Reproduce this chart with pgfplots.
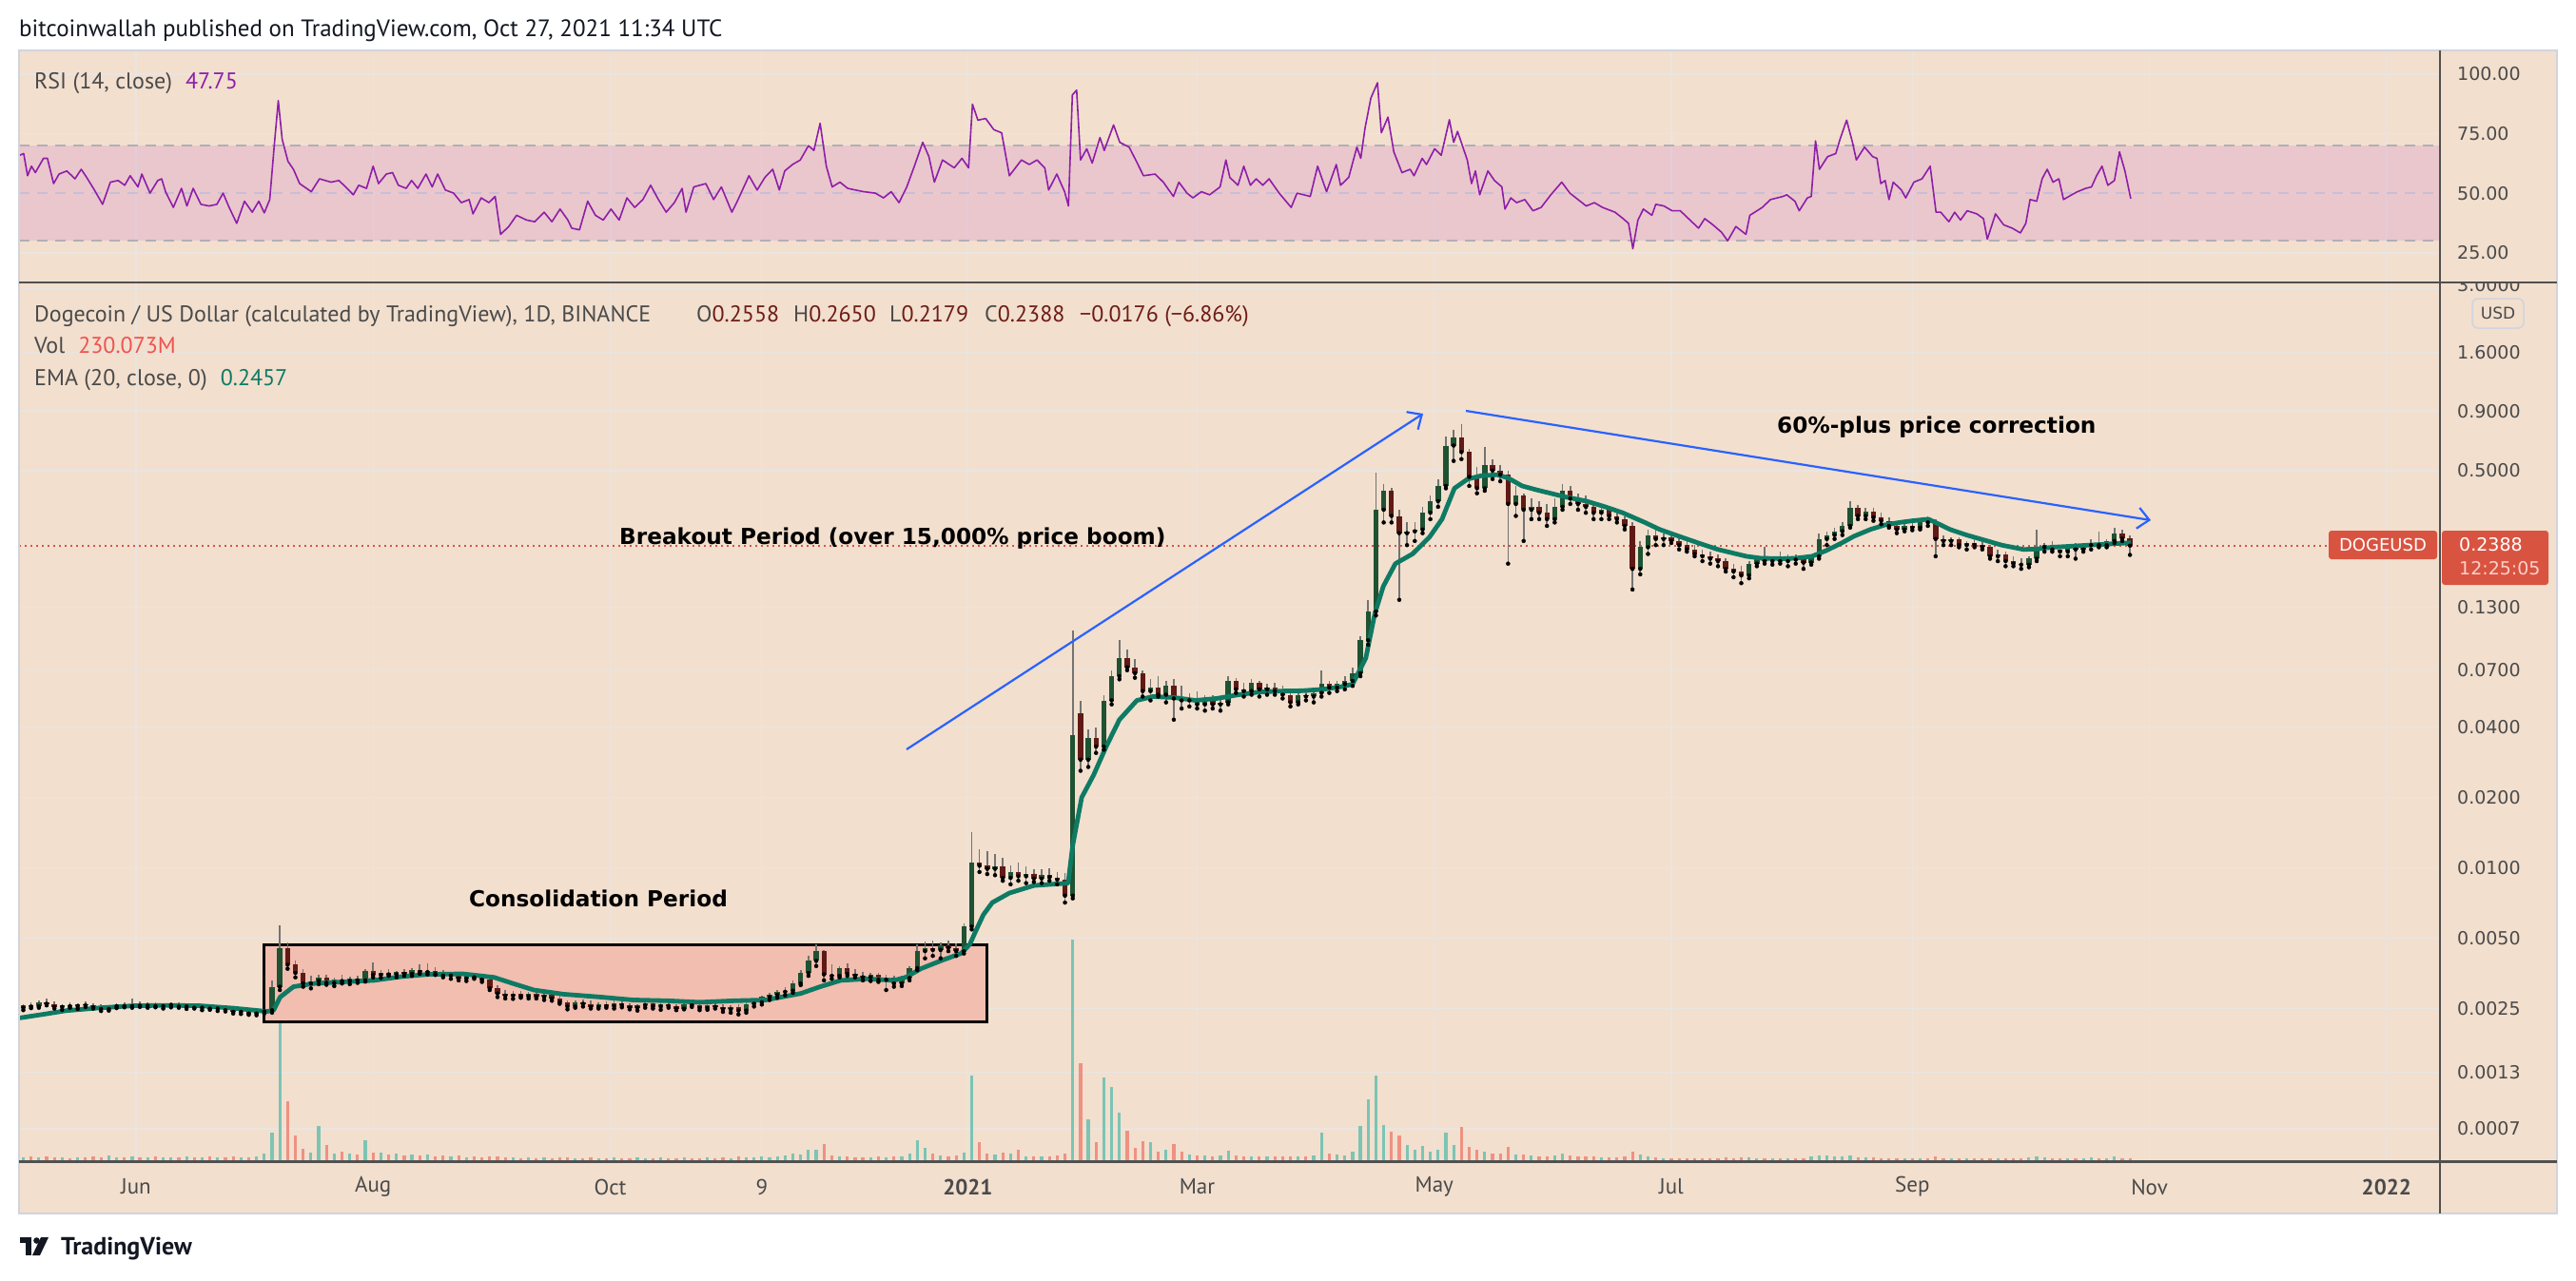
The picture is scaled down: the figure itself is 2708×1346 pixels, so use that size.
\documentclass[border=0pt]{standalone}
\usepackage{pgfplots}
\pgfplotsset{compat=1.18}
\usepackage{pgfplotstable}
\usepackage{fontspec}
\usetikzlibrary{arrows.meta}
\newfontfamily\djs{DejaVu Sans}
\newfontfamily\pts{PT Sans}
\definecolor{bg}{RGB}{242,223,206}
\definecolor{gridc}{RGB}{233,229,226}
\definecolor{labc}{RGB}{74,74,74}
\definecolor{upc}{RGB}{30,82,50}
\definecolor{dnc}{RGB}{96,26,22}
\definecolor{wickc}{RGB}{115,115,115}
\definecolor{emac}{RGB}{14,122,100}
\definecolor{volup}{RGB}{124,196,180}
\definecolor{voldn}{RGB}{238,145,130}
\definecolor{boxc}{RGB}{241,190,175}
\definecolor{arrc}{RGB}{41,98,255}
\definecolor{rsic}{RGB}{142,30,168}
\definecolor{bandc}{RGB}{180,60,200}
\definecolor{dasha}{RGB}{178,174,182}
\definecolor{dashb}{RGB}{200,190,214}
\definecolor{redl}{RGB}{217,83,65}
\definecolor{mar}{RGB}{110,28,22}
\definecolor{volred}{RGB}{239,83,80}
\definecolor{darkl}{RGB}{80,80,80}
\definecolor{txt}{RGB}{19,23,34}
\definecolor{usdb}{RGB}{209,212,220}

\pgfplotstableread{
d o h l c v
-29 .00252 .00262 .00246 .00258 4
-27 .00258 .00266 .00251 .00255 5
-25 .00255 .00270 .00252 .00266 4
-23 .00266 .00276 .00258 .00262 5
-21 .00262 .00268 .00250 .00254 4
-19 .00254 .00262 .00247 .00259 4
-17 .00259 .00266 .00252 .00256 3
-15 .00256 .00263 .00249 .00261 4
-13 .00261 .00268 .00254 .00258 4
-11 .00258 .00264 .00250 .00253 5
-9 .00253 .00260 .00244 .00249 4
-7 .00249 .00258 .00245 .00256 6
-5 .00256 .00264 .00251 .00259 4
-3 .00259 .00265 .00253 .00256 4
-1 .00256 .00276 .00252 .00262 5
1 .00262 .00268 .00254 .00257 4
3 .00257 .00265 .00252 .00261 4
5 .00261 .00267 .00253 .00256 5
7 .00256 .00263 .00250 .00259 4
9 .00259 .00266 .00253 .00262 4
11 .00262 .00266 .00252 .00255 4
13 .00255 .00262 .00249 .00258 5
15 .00258 .00264 .00250 .00252 4
17 .00252 .00259 .00246 .00255 4
19 .00255 .00260 .00247 .00250 5
21 .00250 .00257 .00244 .00252 4
23 .00252 .00256 .00243 .00246 4
25 .00246 .00252 .00238 .00242 5
27 .00242 .00251 .00237 .00247 4
29 .00247 .00250 .00235 .00238 4
31 .00238 .00246 .00234 .00243 5
33 .00243 .00250 .00238 .00246 8
35 .00246 .00330 .00240 .00310 30
37 .00310 .00570 .00300 .00455 170
39 .00455 .00480 .00370 .00385 63
41 .00385 .00400 .00340 .00355 27
43 .00355 .00370 .00310 .00320 13
45 .00320 .00345 .00305 .00328 9
47 .00328 .00350 .00318 .00340 37
49 .00340 .00348 .00316 .00322 17
51 .00322 .00340 .00312 .00332 8
53 .00332 .00348 .00320 .00328 10
55 .00328 .00342 .00318 .00336 8
57 .00336 .00345 .00322 .00330 7
59 .00330 .00370 .00326 .00362 22
61 .00362 .00395 .00340 .00348 9
63 .00348 .00365 .00338 .00355 9
65 .00355 .00370 .00345 .00350 7
67 .00350 .00362 .00340 .00357 8
69 .00357 .00368 .00345 .00352 6
71 .00352 .00372 .00345 .00365 7
73 .00365 .00385 .00352 .00358 6
75 .00358 .00392 .00350 .00362 7
77 .00362 .00375 .00348 .00352 5
79 .00352 .00364 .00340 .00346 6
81 .00346 .00360 .00335 .00350 5
83 .00350 .00356 .00330 .00336 6
85 .00336 .00350 .00328 .00345 4
87 .00345 .00355 .00335 .00340 5
89 .00340 .00350 .00325 .00332 4
91 .00332 .00340 .00300 .00305 5
93 .00305 .00315 .00280 .00290 5
95 .00290 .00300 .00276 .00284 4
97 .00284 .00297 .00275 .00290 4
99 .00290 .00298 .00278 .00282 3
101 .00282 .00296 .00276 .00289 4
103 .00289 .00298 .00276 .00280 3
105 .00280 .00292 .00272 .00286 4
107 .00286 .00293 .00270 .00276 3
109 .00276 .00285 .00262 .00266 4
111 .00266 .00272 .00248 .00255 4
113 .00255 .00270 .00252 .00265 3
115 .00265 .00274 .00255 .00262 3
117 .00262 .00270 .00250 .00254 4
119 .00254 .00266 .00250 .00262 3
121 .00262 .00268 .00252 .00256 3
123 .00256 .00270 .00250 .00264 4
125 .00264 .00272 .00253 .00258 3
127 .00258 .00264 .00248 .00252 3
129 .00252 .00262 .00245 .00258 4
131 .00258 .00270 .00252 .00263 3
133 .00263 .00268 .00250 .00255 3
135 .00255 .00264 .00247 .00260 4
137 .00260 .00268 .00252 .00256 3
139 .00256 .00262 .00246 .00250 3
141 .00250 .00266 .00248 .00262 4
143 .00262 .00270 .00254 .00258 3
145 .00258 .00264 .00246 .00251 3
147 .00251 .00262 .00247 .00259 4
149 .00259 .00266 .00250 .00254 3
151 .00254 .00262 .00242 .00248 4
153 .00248 .00258 .00240 .00253 3
155 .00253 .00260 .00236 .00245 5
157 .00245 .00268 .00240 .00262 4
159 .00262 .00272 .00255 .00266 4
161 .00266 .00285 .00260 .00280 5
163 .00280 .00292 .00272 .00286 4
165 .00286 .00300 .00278 .00295 5
167 .00295 .00310 .00285 .00298 6
169 .00298 .00330 .00292 .00320 8
171 .00320 .00365 .00315 .00355 7
173 .00355 .00420 .00345 .00400 12
175 .00400 .00470 .00380 .00440 12
177 .00440 .00445 .00330 .00350 18
179 .00350 .00385 .00335 .00345 6
181 .00345 .00380 .00340 .00372 5
183 .00372 .00390 .00345 .00352 5
185 .00352 .00368 .00340 .00346 4
187 .00346 .00360 .00330 .00340 4
189 .00340 .00355 .00328 .00348 4
191 .00348 .00356 .00325 .00332 5
193 .00332 .00350 .00300 .00338 4
195 .00338 .00345 .00310 .00320 5
197 .00320 .00345 .00312 .00338 5
199 .00338 .00380 .00330 .00372 8
201 .00372 .00470 .00365 .00440 22
203 .00440 .00485 .00410 .00455 14
205 .00455 .00490 .00420 .00445 8
207 .00445 .00480 .00410 .00465 6
209 .00465 .00490 .00440 .00455 5
211 .00455 .00475 .00420 .00440 6
213 .00440 .00580 .00430 .00560 9
215 .00560 .01420 .00545 .01050 90
217 .01050 .01200 .00960 .01020 20
219 .01020 .01180 .00940 .00990 8
221 .00990 .01150 .00930 .01010 7
223 .01010 .01100 .00880 .00905 9
225 .00905 .01020 .00850 .00960 8
227 .00960 .01050 .00880 .00920 12
229 .00920 .01010 .00860 .00945 5
231 .00945 .00990 .00870 .00900 5
233 .00900 .00990 .00860 .00935 5
235 .00935 .01000 .00880 .00910 5
237 .00910 .00960 .00850 .00890 6
239 .00890 .00950 .00710 .00760 8
241 .00760 .10400 .00740 .03700 233
243 .04600 .05200 .02600 .02900 103
245 .02900 .03900 .02700 .03600 44
247 .03600 .04000 .03100 .03300 20
249 .03300 .05500 .03200 .05200 88
251 .05200 .07000 .05000 .06600 78
253 .06600 .09400 .06400 .07900 51
255 .07900 .08600 .07000 .07200 32
257 .07200 .07800 .06500 .06800 14
259 .06800 .07000 .05400 .05700 21
261 .05700 .06400 .05200 .05900 20
263 .05900 .06600 .05400 .05500 10
265 .05500 .06300 .05100 .06000 12
267 .06000 .06400 .04300 .05300 18
269 .05300 .06000 .04800 .05200 10
271 .05200 .05600 .04900 .05300 7
273 .05300 .05700 .04800 .05000 6
275 .05000 .05500 .04700 .05200 6
277 .05200 .05500 .04800 .05000 5
279 .05000 .05400 .04700 .05100 6
281 .05100 .06600 .05000 .06300 11
283 .06300 .06500 .05600 .05800 6
285 .05800 .06200 .05400 .05700 5
287 .05700 .06400 .05500 .06200 5
289 .06200 .06300 .05400 .05800 5
291 .05800 .06100 .05500 .05900 5
293 .05900 .06200 .05500 .05700 5
295 .05700 .06000 .05300 .05500 5
297 .05500 .05800 .04900 .05100 5
299 .05100 .05700 .05000 .05500 5
301 .05500 .05800 .05200 .05400 5
303 .05400 .05700 .05100 .05600 6
305 .05600 .07000 .05400 .06100 30
307 .06100 .06300 .05600 .05900 8
309 .05900 .06300 .05700 .06100 7
311 .06100 .06600 .05800 .06300 6
313 .06300 .07200 .06000 .06800 10
315 .06800 .09800 .06600 .09400 37
317 .09400 .14000 .09000 .12500 65
319 .12500 .49000 .12000 .34000 90
321 .34000 .44000 .30000 .41000 38
323 .41000 .42000 .30000 .32000 31
325 .32000 .34000 .14000 .27000 27
327 .27000 .30000 .24000 .27500 17
329 .27500 .30000 .25000 .28000 12
331 .28000 .35000 .27000 .33000 16
333 .33000 .39000 .31000 .37000 10
335 .37000 .46000 .35000 .43000 12
337 .43000 .70000 .42000 .64000 30
339 .64000 .75000 .55000 .69000 17
341 .69000 .79000 .56000 .60000 36
343 .60000 .62000 .43000 .47000 15
345 .47000 .52000 .40000 .42000 12
347 .42000 .63000 .41000 .53000 10
349 .53000 .56000 .46000 .50000 8
351 .50000 .53000 .45000 .48000 8
353 .48000 .50000 .20000 .36000 15
355 .36000 .43000 .32000 .39000 7
357 .39000 .40000 .25000 .34000 7
359 .34000 .38000 .31000 .35000 6
361 .35000 .37000 .31000 .33000 5
363 .33000 .36000 .29000 .31000 5
365 .31000 .38000 .30000 .35000 6
367 .35000 .44000 .34000 .41000 8
369 .41000 .43000 .36000 .38000 6
371 .38000 .40000 .34000 .36000 5
373 .36000 .39000 .33000 .35000 5
375 .35000 .37000 .31000 .33000 5
377 .33000 .36000 .31000 .34000 4
379 .34000 .35000 .31000 .32000 4
381 .32000 .34000 .30000 .31000 4
383 .31000 .32000 .28000 .29000 5
385 .29000 .30000 .15500 .19000 10
387 .19000 .25000 .18000 .23500 7
389 .23500 .28000 .22000 .26500 5
391 .26500 .28000 .24000 .25500 4
393 .25500 .27000 .24000 .26000 3
395 .26000 .27000 .24500 .25000 3
397 .25000 .26000 .23000 .24000 3
399 .24000 .25000 .22500 .23000 3
401 .23000 .24000 .21500 .22000 3
403 .22000 .23000 .20500 .21500 3
405 .21500 .22500 .20000 .21000 3
407 .21000 .22000 .19500 .20500 3
409 .20500 .21000 .18500 .19000 4
411 .19000 .20000 .17500 .18500 3
413 .18500 .19500 .16500 .17800 4
415 .17800 .20500 .17300 .20000 4
417 .20000 .21500 .19500 .20800 3
419 .20800 .23500 .20000 .20500 3
421 .20500 .21500 .19800 .21000 3
423 .21000 .22500 .20000 .20500 3
425 .20500 .21800 .19500 .21200 3
427 .21200 .22000 .20000 .20800 3
429 .20800 .21500 .19000 .20200 3
431 .20200 .22000 .19800 .21500 5
433 .21500 .27000 .21000 .25500 6
435 .25500 .27500 .24000 .26500 6
437 .26500 .28500 .25500 .27500 5
439 .27500 .30000 .26500 .29000 5
441 .29000 .37000 .28500 .34500 6
443 .34500 .35500 .31000 .32000 4
445 .32000 .34500 .31000 .33500 4
447 .33500 .34500 .30500 .31500 4
449 .31500 .33000 .29500 .30500 3
451 .30500 .31500 .28500 .29000 3
453 .29000 .30000 .27000 .28000 3
455 .28000 .29500 .27500 .29000 3
457 .29000 .30000 .27800 .28500 3
459 .28500 .31000 .28000 .30500 3
461 .30500 .32000 .29000 .30000 3
463 .30000 .31000 .21500 .25500 5
465 .25500 .26500 .24000 .25000 3
467 .25000 .26000 .24000 .25500 3
469 .25500 .26000 .23500 .24000 3
471 .24000 .25000 .23000 .24500 3
473 .24500 .25500 .23500 .24000 3
475 .24000 .25000 .23000 .23500 3
477 .23500 .24000 .21000 .21500 3
479 .21500 .23000 .20500 .22000 3
481 .22000 .22500 .19500 .20500 3
483 .20500 .21500 .19500 .20000 3
485 .20000 .21000 .19000 .19800 3
487 .19800 .21500 .19300 .21000 4
489 .21000 .28000 .20500 .23500 5
491 .23500 .24500 .22500 .24000 4
493 .24000 .25000 .22500 .23000 3
495 .23000 .24000 .21500 .22500 3
497 .22500 .24000 .21500 .23500 3
499 .23500 .24500 .21000 .23000 3
501 .23000 .24500 .22500 .24000 3
503 .24000 .25500 .23000 .24500 4
505 .24500 .27500 .23500 .24000 3
507 .24000 .25500 .23500 .25000 3
509 .25000 .28500 .24500 .27000 5
511 .27000 .28000 .25000 .25580 3
513 .25580 .26500 .21790 .23880 3
}\candles

\pgfplotsset{tvpanel/.style={scale only axis, width=2545pt, xmin=-30.1, xmax=592.75, anchor=north west}}

\begin{document}
\begin{tikzpicture}[x=1pt,y=1pt]
\path[use as bounding box] (0,0) rectangle (2708,-1346);
\fill[white] (0,0) rectangle (2708,-1346);
\fill[bg] (20,-53) rectangle (2688,-1276);

% ---- main grid + labels
\begin{axis}[tvpanel, at={(20pt,-297pt)}, height=924pt, ymode=log, ymin=0.000556, ymax=3.19,
  axis line style={draw=none}, tick style={draw=none}, major tick length=0pt,
  xtick={0,61,122,161,214,273,334,395,457,518,579},
  xticklabels={Jun,Aug,Oct,9,\textbf{2021},Mar,May,Jul,Sep,Nov,\textbf{2022}},
  xticklabel style={font=\pts\fontsize{23}{23}\selectfont, text=labc, anchor=center, inner sep=0pt, yshift=-27pt},
  ytick={0.000765,0.001334,0.0025,0.005,0.01,0.02,0.04,0.07,0.13,0.24,0.5,0.9,1.6,3},
  yticklabels={0.0007,0.0013,0.0025,0.0050,0.0100,0.0200,0.0400,0.0700,0.1300,{},0.5000,0.9000,1.6000,{}},
  yticklabel pos=right,
  yticklabel style={font=\djs\fontsize{19}{19}\selectfont, text=labc, anchor=west, inner sep=0pt, xshift=18pt},
  grid=major, major grid style={draw=gridc, line width=1.3pt}]
\end{axis}

% ---- volume
\begin{axis}[tvpanel, at={(20pt,-297pt)}, height=924pt, ymin=0, ymax=924, hide axis]
\addplot[ycomb, draw=volup, line width=3.2pt, restrict expr to domain={\thisrow{c}-\thisrow{o}}{0:1000}] table[x=d,y=v]{\candles};
\addplot[ycomb, draw=voldn, line width=3.2pt, restrict expr to domain={\thisrow{o}-\thisrow{c}}{0.0000001:1000}] table[x=d,y=v]{\candles};
\end{axis}

% ---- price
\begin{axis}[tvpanel, at={(20pt,-297pt)}, height=924pt, ymode=log, ymin=0.000556, ymax=3.19, hide axis]
\fill[boxc] (axis cs:33,0.0047) rectangle (axis cs:219,0.00219);
\draw[black, line width=3pt] (axis cs:33,0.0047) rectangle (axis cs:219,0.00219);
\draw[redl, line width=2pt, dash pattern=on 2pt off 4pt] (axis cs:-30.1,0.2388) -- (axis cs:592.75,0.2388);
\addplot[only marks, mark=none, error bars/.cd, y dir=plus, y explicit, error mark=none,
  error bar style={draw=wickc, line width=1.6pt}]
  table[x=d, y=l, y error plus expr=\thisrow{h}-\thisrow{l}]{\candles};
\addplot[only marks, mark=none, restrict expr to domain={\thisrow{c}-\thisrow{o}}{0:1000},
  error bars/.cd, y dir=plus, y explicit, error mark=none,
  error bar style={draw=upc, line width=5.4pt}]
  table[x=d, y=o, y error plus expr=\thisrow{c}-\thisrow{o}]{\candles};
\addplot[only marks, mark=none, restrict expr to domain={\thisrow{o}-\thisrow{c}}{0.0000001:1000},
  error bars/.cd, y dir=plus, y explicit, error mark=none,
  error bar style={draw=dnc, line width=5.4pt}]
  table[x=d, y=c, y error plus expr=\thisrow{o}-\thisrow{c}]{\candles};
\addplot[emac, line width=4.8pt, line join=round] coordinates {
(-29.9,0.00228)(-24,0.00236)(-17.9,0.00245)(-9,0.00252)(-0.7,0.00257)(8,0.00258)(16.4,0.00257)(25,0.00251)(33.7,0.00243)(35.4,0.00246)(37.1,0.0028)(40.5,0.0031)(45.7,0.0032)(53,0.00325)(61.2,0.0033)(68,0.00342)(74.9,0.0035)(84,0.00352)(92.1,0.0034)(97,0.0032)(102.4,0.0030)(110,0.00288)(119.5,0.0028)(128,0.00272)(136.7,0.0027)(145,0.00266)(153.9,0.0027)(162,0.00272)(171,0.0029)(176,0.0031)(181.3,0.0033)(188,0.00335)(195,0.0033)(198,0.0034)(201.9,0.0037)(207,0.0040)(212.2,0.0043)(214.5,0.0047)(215.9,0.0053)(218,0.0063)(220.3,0.0071)(224.7,0.0078)(231,0.0084)(239.8,0.0086)(241,0.0125)(243.3,0.020)(246.4,0.025)(249.6,0.033)(253,0.043)(257.5,0.052)(261.6,0.054)(267,0.0535)(272.6,0.052)(278,0.053)(283.7,0.055)(289,0.0565)(294.4,0.057)(300,0.0572)(305.4,0.058)(310,0.0595)(313,0.061)(316.4,0.079)(318.7,0.122)(320.9,0.16)(324,0.20)(328.4,0.22)(332.8,0.26)(336,0.31)(339.2,0.42)(342.6,0.46)(346,0.475)(350.2,0.48)(353,0.465)(356.6,0.43)(360,0.415)(363.9,0.40)(368,0.385)(373.2,0.37)(378,0.35)(382.5,0.33)(388.2,0.30)(392,0.28)(397.5,0.26)(402,0.245)(407,0.23)(414.3,0.215)(418,0.211)(423.6,0.21)(427,0.211)(431.2,0.215)(435,0.228)(438.8,0.245)(442,0.262)(446.2,0.28)(450,0.293)(453.7,0.30)(457,0.305)(461.1,0.31)(463,0.30)(466.7,0.28)(471,0.265)(476.3,0.25)(480,0.24)(485.6,0.23)(489,0.231)(492.9,0.235)(497,0.237)(502.4,0.24)(508,0.243)(513.2,0.2457)
};
\end{axis}

% cut 3.0000 label
\node[anchor=west, inner sep=0pt, font=\djs\fontsize{19}{19}\selectfont, text=labc] at (2583,-300) {3.0000};
\fill[bg] (2566,-54) rectangle (2687,-296);

% ---- RSI
\begin{axis}[tvpanel, at={(20pt,-53pt)}, height=244pt, ymin=12.63, ymax=109.97,
  axis line style={draw=none}, tick style={draw=none}, major tick length=0pt,
  xtick={0,61,122,161,214,273,334,395,457,518,579}, xticklabels={},
  ytick={25,50,75,100}, yticklabels={25.00,50.00,75.00,100.00},
  yticklabel pos=right,
  yticklabel style={font=\djs\fontsize{19}{19}\selectfont, text=labc, anchor=west, inner sep=0pt, xshift=18pt},
  grid=major, major grid style={draw=gridc, line width=1.3pt}]
\fill[bandc, fill opacity=0.14] (axis cs:-30.1,30) rectangle (axis cs:592.75,70);
\draw[dasha, line width=2pt, dash pattern=on 11pt off 8pt] (axis cs:-30.1,70) -- (axis cs:592.75,70);
\draw[dashb, line width=2pt, dash pattern=on 11pt off 8pt] (axis cs:-30.1,50) -- (axis cs:592.75,50);
\draw[dasha, line width=2pt, dash pattern=on 11pt off 8pt] (axis cs:-30.1,30) -- (axis cs:592.75,30);
\addplot[rsic, line width=1.6pt, line join=round] coordinates {
(-29.9,66.0)(-28.9,66.7)(-27.9,57.4)(-26.9,61.4)(-25.9,58.7)(-23.8,64.7)(-22.8,64.7)(-21.2,54.1)(-19.8,58.1)(-17.8,59.4)(-15.7,56.1)(-14.1,60.1)(-12.7,56.7)(-10.7,51.4)(-8.6,45.4)(-6.6,54.7)(-4.6,55.4)(-2.9,53.4)(-1.5,57.4)(0.5,52.7)(1.5,58.1)(3.6,50.1)(5.6,55.4)(6.6,56.1)(7.6,50.7)(9.6,44.1)(11.7,52.1)(13.1,44.7)(14.7,52.1)(16.7,45.4)(18.8,44.7)(20.8,45.4)(22.4,50.1)(23.8,44.7)(25.9,37.4)(27.9,46.7)(29.9,42.1)(31.6,46.7)(33.0,41.8)(34.4,47.4)(35.6,70.7)(36.6,88.9)(37.6,72.7)(39.1,63.4)(40.5,60.1)(42.1,54.1)(45.1,50.7)(47.2,56.1)(50.2,54.7)(52.2,55.4)(54.3,52.1)(55.9,49.4)(57.3,53.4)(59.3,52.1)(61.0,61.4)(62.4,54.1)(64.4,58.1)(66.0,58.7)(67.5,53.4)(69.5,52.1)(70.9,55.4)(72.5,52.1)(74.6,58.1)(76.2,52.7)(77.6,58.1)(79.6,51.4)(81.7,50.1)(83.7,46.1)(85.7,47.4)(86.7,41.4)(88.8,48.1)(90.8,46.1)(92.4,48.7)(93.8,32.8)(95.9,36.1)(97.9,40.8)(100.5,38.8)(102.6,38.1)(105.0,42.1)(107.0,38.1)(109.1,43.4)(111.1,38.8)(112.1,35.4)(114.1,34.7)(116.2,46.7)(118.2,40.8)(120.2,38.8)(122.2,43.4)(124.3,38.8)(126.3,48.1)(128.3,44.1)(130.4,47.4)(132.4,53.4)(134.4,47.4)(136.4,42.1)(138.5,46.1)(140.5,52.1)(141.5,42.1)(143.5,52.7)(146.6,54.1)(148.6,47.4)(150.6,52.7)(153.3,42.1)(154.7,46.7)(157.7,57.4)(159.8,51.4)(161.8,56.7)(163.8,60.1)(165.5,51.4)(166.9,59.4)(168.9,62.1)(170.9,64.0)(173.0,70.0)(174.4,68.0)(176.0,79.4)(177.6,61.4)(179.1,52.7)(181.1,54.7)(183.1,52.1)(185.1,51.4)(187.2,50.7)(190.2,50.1)(192.3,48.1)(194.3,50.7)(196.3,46.1)(198.3,52.7)(200.4,62.1)(202.4,71.4)(204.0,65.4)(205.4,54.7)(207.5,64.0)(210.5,60.7)(212.5,64.7)(214.2,60.7)(215.2,87.4)(216.6,80.7)(218.6,81.4)(220.7,76.7)(222.7,75.4)(224.7,57.4)(227.8,64.0)(229.8,62.1)(231.8,64.0)(233.8,60.7)(234.8,51.4)(236.9,58.1)(238.9,50.7)(239.9,44.7)(240.9,91.3)(242.0,93.3)(243.0,64.0)(244.6,68.7)(246.0,62.7)(248.0,73.4)(249.1,68.0)(251.5,78.7)(253.1,71.4)(255.5,69.4)(257.2,64.0)(259.2,57.4)(262.2,58.1)(264.3,54.7)(266.9,48.7)(268.3,54.7)(270.4,50.1)(271.9,48.1)(274.1,50.7)(276.2,49.4)(278.9,52.7)(280.4,64.0)(281.4,56.7)(283.5,53.4)(285.0,61.4)(286.7,53.4)(288.2,56.1)(289.9,53.4)(291.5,56.1)(294.1,50.1)(297.2,44.1)(298.7,50.1)(302.1,48.7)(304.0,61.4)(306.3,50.7)(308.8,62.1)(309.9,53.4)(312.0,56.7)(314.1,69.4)(315.1,64.7)(316.2,77.4)(317.7,90.0)(319.4,96.4)(320.4,75.4)(322.1,82.0)(323.6,67.4)(325.7,58.7)(327.8,60.1)(328.8,57.4)(330.9,64.7)(332.0,62.1)(334.1,68.7)(335.8,66.0)(337.9,80.9)(339.0,71.4)(340.0,76.0)(342.5,64.0)(343.6,54.1)(344.6,59.4)(345.7,49.4)(347.8,59.4)(349.5,55.4)(351.4,52.7)(352.2,43.4)(353.7,48.1)(355.2,46.1)(357.3,47.4)(359.4,42.7)(361.5,44.1)(364.0,49.4)(366.8,54.7)(368.9,50.1)(371.0,47.4)(373.1,44.7)(375.2,46.1)(377.3,44.1)(380.5,42.1)(382.6,39.4)(384.0,37.4)(385.1,26.8)(386.4,38.8)(387.8,43.4)(390.0,40.8)(391.0,45.4)(393.1,44.7)(395.2,42.7)(397.3,42.7)(399.8,38.8)(402.0,35.4)(403.6,39.4)(405.7,36.8)(407.9,33.7)(409.5,30.1)(411.6,36.1)(414.2,32.8)(415.2,40.8)(418.4,44.1)(420.5,47.4)(423.7,48.7)(424.7,49.4)(426.8,46.7)(427.9,42.7)(430.0,48.1)(431.0,48.7)(432.1,72.0)(433.1,60.1)(435.2,65.4)(437.3,66.7)(438.4,72.7)(440.1,80.7)(441.6,71.4)(442.6,64.0)(444.7,69.4)(446.8,65.4)(447.9,64.7)(448.9,54.1)(450.0,55.4)(451.0,47.4)(452.1,54.7)(454.2,51.4)(455.3,48.1)(457.4,54.7)(459.5,56.1)(461.6,61.4)(463.1,42.1)(464.3,42.1)(466.4,38.1)(467.9,42.1)(469.4,38.8)(471.1,42.7)(473.6,41.4)(475.3,39.4)(476.3,30.8)(478.4,41.4)(480.5,36.8)(482.7,35.4)(484.8,33.4)(486.2,37.4)(487.3,47.4)(489.0,46.7)(490.4,56.1)(491.7,60.1)(493.2,54.7)(494.7,56.1)(495.9,47.4)(498.0,49.4)(499.5,50.7)(501.6,52.1)(503.1,52.7)(504.4,57.4)(505.8,61.4)(507.3,53.4)(509.0,55.4)(510.3,67.4)(511.7,59.4)(513.2,47.75)
};
\end{axis}

% ---- frame lines
\draw[usdb, line width=1.5pt] (20,-53) rectangle (2688,-1276);
\draw[darkl, line width=2pt] (20,-297) -- (2688,-297);
\draw[darkl, line width=1.5pt] (2565,-53) -- (2565,-1276);
\draw[darkl, line width=3pt] (20,-1221) -- (2688,-1221);

% ---- header and legends
\node[anchor=base west, inner sep=0pt, font=\pts\fontsize{25}{25}\selectfont, text=txt] at (20,-38.5) {bitcoinwallah published on TradingView.com, Oct 27, 2021 11:34 UTC};
\node[anchor=base west, inner sep=0pt, font=\pts\fontsize{24}{24}\selectfont, text=labc] at (36,-93) {RSI (14, close)\hspace{14pt}\textcolor{rsic}{47.75}};
\node[anchor=base west, inner sep=0pt, font=\pts\fontsize{24}{24}\selectfont, text=labc] at (36,-338) {Dogecoin / US Dollar (calculated by TradingView), 1D, BINANCE};
\begin{scope}[every node/.style={anchor=base west, inner sep=0pt, font=\pts\fontsize{24}{24}\selectfont, text=labc}]
\node at (732,-338) {O\textcolor{mar}{0.2558}};
\node at (834,-338) {H\textcolor{mar}{0.2650}};
\node at (935,-338) {L\textcolor{mar}{0.2179}};
\node at (1035,-338) {C\textcolor{mar}{0.2388}};
\node at (1135,-338) {\textcolor{mar}{−0.0176 (−6.86\%)}};
\node at (36,-371) {Vol\hspace{14pt}\textcolor{volred}{230.073M}};
\node at (36,-405) {EMA (20, close, 0)\hspace{14pt}\textcolor{emac}{0.2457}};
\end{scope}

% ---- annotations
\begin{scope}[every node/.style={anchor=base west, inner sep=0pt, font=\djs\bfseries\fontsize{23.2}{23.2}\selectfont, text=black}]
\node at (651,-572) {Breakout Period (over 15,000\% price boom)};
\node at (493,-953) {Consolidation Period};
\node at (1868,-455) {60\%-plus price correction};
\end{scope}
\draw[arrc, line width=2.2pt, -{Straight Barb[length=12pt, width=22pt]}] (953,-788) -- (1496,-435);
\draw[arrc, line width=2.2pt, -{Straight Barb[length=12pt, width=22pt]}] (1541,-432) -- (2261,-547);

% ---- price label boxes
\fill[redl, rounded corners=3pt] (2448,-558) rectangle (2562,-588);
\node[inner sep=0pt, font=\djs\fontsize{18}{18}\selectfont, text=white] at (2505,-573) {DOGEUSD};
\fill[redl, rounded corners=3pt] (2567,-558) rectangle (2679,-615);
\node[anchor=west, inner sep=0pt, font=\djs\fontsize{19}{19}\selectfont, text=white] at (2585,-573) {0.2388};
\node[anchor=west, inner sep=0pt, font=\djs\fontsize{19}{19}\selectfont, text={rgb,255:red,250;green,208;blue,200}] at (2585,-598) {12:25:05};
\draw[usdb, line width=1.5pt, rounded corners=6pt] (2599,-314) rectangle (2653,-345);
\node[inner sep=0pt, font=\djs\fontsize{17}{17}\selectfont, text=labc] at (2626,-329.5) {USD};

% ---- logo
\fill[txt] (21,-1301) rectangle (33,-1307);
\fill[txt] (27,-1301) rectangle (33,-1320);
\fill[txt] (38.5,-1304.5) circle (3.3);
\fill[txt] (43,-1301) -- (51,-1301) -- (42,-1320) -- (34,-1320) -- cycle;
\node[anchor=base west, inner sep=0pt, font=\pts\bfseries\fontsize{26}{26}\selectfont, text=txt] at (64,-1319) {TradingView};
\end{tikzpicture}
\end{document}
